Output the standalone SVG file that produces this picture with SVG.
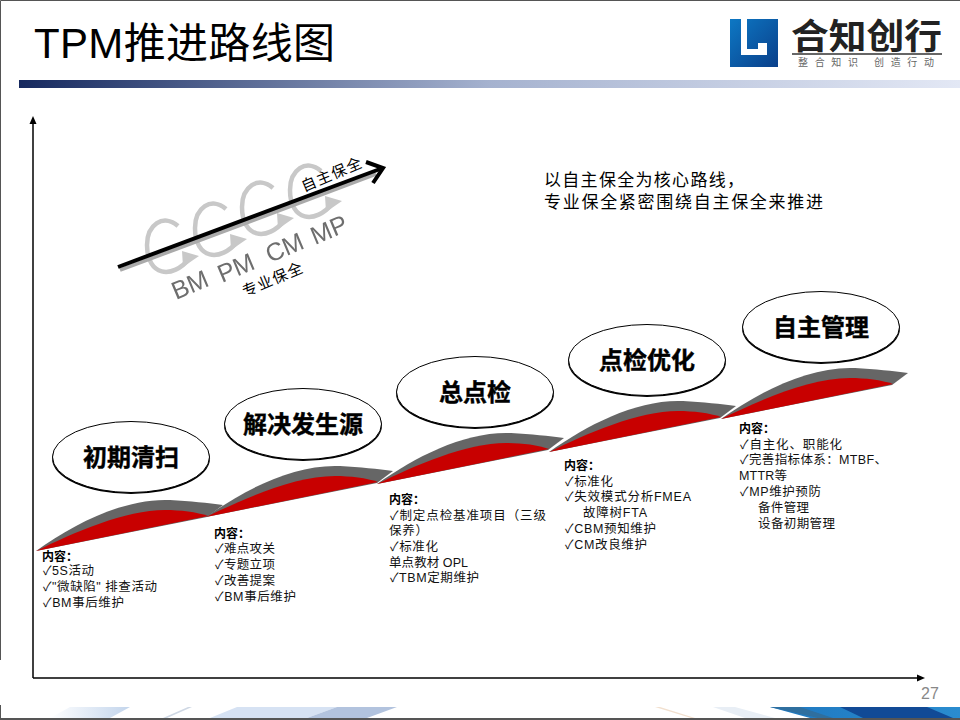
<svg xmlns="http://www.w3.org/2000/svg" width="960" height="720" viewBox="0 0 960 720">
<style>
text{font-family:"Liberation Sans","Noto Sans CJK SC",sans-serif;fill:#000}
.c{font-size:12.500px;fill:#111}
.b{font-size:12px;font-weight:bold}
.n{font-size:24px;font-weight:bold;text-anchor:middle;stroke:#000;stroke-width:.4}
.el{fill:#fff;stroke:#000;stroke-width:1}
.sh{fill:#000}
.g{fill:#666}
.r{fill:#c80000}
.arc{fill:none;stroke:#c8c8c8;stroke-width:4.500}
.tip{fill:#c8c8c8}
.m{font-size:25px;fill:#6e6e6e}
.lb{font-size:15px}
</style>
<defs>
<linearGradient id="bar"><stop offset="0" stop-color="#16295f"/><stop offset=".5" stop-color="#a5b2cf"/><stop offset="1" stop-color="#e3e8f5"/></linearGradient>
<linearGradient id="logo" x1="0" y1="0" x2="1" y2="1"><stop offset="0" stop-color="#0d78c4"/><stop offset="1" stop-color="#0a3f8a"/></linearGradient>
<linearGradient id="f1" x1="0" y1="0" x2="1" y2="0"><stop offset="0" stop-color="#fff"/><stop offset="1" stop-color="#c3d5ec"/></linearGradient>
<linearGradient id="f2" x1="0" y1="0" x2="1" y2="0"><stop offset="0" stop-color="#1f78c0"/><stop offset="1" stop-color="#2a8ccf"/></linearGradient>
<filter id="soft" x="-10%" y="-10%" width="120%" height="120%"><feGaussianBlur stdDeviation=".5"/></filter>
<marker id="tip" markerWidth="10" markerHeight="8" refX="1" refY="4" orient="auto" markerUnits="userSpaceOnUse"><path d="M0 0.500L8 4L0 7.500Z" fill="#000"/></marker>
<g id="wave">
<path class="g" d="M36 551C75 523 125 498 170 500C190 501 208 503 223 505L207 517Z"/>
<path class="r" d="M36 551C75 532 125 510 165 510C180 510 197 512 208 516Z"/>
</g>
</defs>
<rect width="960" height="720" fill="#fff"/>
<g id="frame">
<path d="M0.500 660V0.500H960" fill="none" stroke="#555"/>
<path d="M0.500 705V720" fill="none" stroke="#555"/>
</g>
<g id="footer">
<path d="M50 718L70 707H130L110 718Z" fill="url(#f1)"/>
<path d="M163 718L188 707H192L167 718Z" fill="#cfd8e4"/>
<path d="M210 718L237 707H337L307 718Z" fill="#d6e2f3"/>
<path d="M307 718L337 707H397L367 718Z" fill="#b2c3de"/>
<path d="M660 707L695 718H691L655 707Z" fill="#f2e0cf"/>
<path d="M713 707L745 718H775L735 707Z" fill="#e8eef5"/>
<path d="M770 707L810 718H960V707Z" fill="url(#f2)"/>
<path d="M770 707H800L833 718H818Z" fill="#2f6f9f"/>
<path d="M840 707L863 718H953L927 707Z" fill="#114a96"/>
<rect y="718" width="960" height="2" fill="#555"/>
</g>
<text x="34" y="58" font-size="42" textLength="301">TPM推进路线图</text>
<rect x="19" y="80" width="941" height="8" fill="url(#bar)"/>
<g id="logo-mark">
<path d="M730 19H778V67H730ZM741 19V55H767V43H758V49H747V19Z" fill="url(#logo)" fill-rule="evenodd"/>
<text x="791" y="49" font-size="35" font-weight="bold" style="fill:#222" textLength="151" lengthAdjust="spacingAndGlyphs">合知创行</text>
<rect x="792" y="53" width="150" height="2" fill="#666"/>
<text x="798" y="66" font-size="10" style="fill:#666" textLength="136">整合知识   创造行动</text>
</g>
<g id="axes" fill="none" stroke="#000" stroke-width="1.500">
<path d="M33 678V123" marker-end="url(#tip)"/>
<path d="M33 678H918" marker-end="url(#tip)"/>
</g>
<text x="921" y="699" font-size="16" style="fill:#888" textLength="18">27</text>
<text x="544" y="186" font-size="17" textLength="200">以自主保全为核心路线，</text>
<text x="544" y="208" font-size="17" textLength="279">专业保全紧密围绕自主保全来推进</text>
<g id="diagram-inset">
<g id="arcs" filter="url(#soft)">
<path class="arc" d="M178 226C163 213 147 225 147 245C147 276 172 280 190 258"/>
<path class="arc" d="M226 209C211 196 195 208 195 228C195 259 220 263 238 241"/>
<path class="arc" d="M273 188C258 175 242 187 242 207C242 238 267 242 285 220"/>
<path class="arc" d="M321 171C306 158 290 170 290 190C290 221 315 225 333 203"/>
<path class="tip" d="M182 251L199 256L183 267ZM230 234L247 239L231 250ZM277 213L294 218L278 229ZM325 196L342 201L326 212Z"/>
</g>
<path d="M120 270L376 174" stroke="#aaa" stroke-width="4" fill="none" filter="url(#soft)"/>
<path d="M118 267L380 169" stroke="#000" stroke-width="4" fill="none"/>
<path d="M366 162L383 168L373 183" stroke="#000" stroke-width="4" fill="none"/>
<g id="specialist-labels" filter="url(#soft)">
<text class="m" transform="translate(176 300) rotate(-23)">BM</text>
<text class="m" transform="translate(222 283) rotate(-23)">PM</text>
<text class="m" transform="translate(270 263) rotate(-23)">CM</text>
<text class="m" transform="translate(315 245) rotate(-23)">MP</text>
</g>
<text class="lb" transform="translate(304 192) rotate(-23)" textLength="64">自主保全</text>
<text class="lb" transform="translate(245 297) rotate(-23)" textLength="64">专业保全</text>
</g>
<g id="waves">
<use href="#wave"/>
<use href="#wave" x="170" y="-34"/>
<use href="#wave" x="341" y="-67"/>
<use href="#wave" x="513" y="-99"/>
<use href="#wave" x="685" y="-132"/>
</g>
<g id="node-1"><ellipse class="sh" cx="131" cy="458.500" rx="79" ry="35.500"/><ellipse class="el" cx="131" cy="457" rx="78.500" ry="35.500"/><text class="n" x="131" y="466">初期清扫</text></g>
<g id="node-2"><ellipse class="sh" cx="303" cy="425.500" rx="79" ry="35.500"/><ellipse class="el" cx="303" cy="424" rx="78.500" ry="35.500"/><text class="n" x="303" y="433">解决发生源</text></g>
<g id="node-3"><ellipse class="sh" cx="475" cy="393.500" rx="79" ry="35.500"/><ellipse class="el" cx="475" cy="392" rx="78.500" ry="35.500"/><text class="n" x="475" y="401">总点检</text></g>
<g id="node-4"><ellipse class="sh" cx="647" cy="361.500" rx="79" ry="35.500"/><ellipse class="el" cx="647" cy="360" rx="78.500" ry="35.500"/><text class="n" x="647" y="369">点检优化</text></g>
<g id="node-5"><ellipse class="sh" cx="821" cy="328.500" rx="79" ry="35.500"/><ellipse class="el" cx="821" cy="327" rx="78.500" ry="35.500"/><text class="n" x="821" y="336">自主管理</text></g>
<g id="content-1">
<text class="b" x="42" y="561">内容：</text>
<text class="c" x="43" y="575" textLength="51">✓5S活动</text>
<text class="c" x="43" y="591" textLength="114">✓"微缺陷" 排查活动</text>
<text class="c" x="43" y="607" textLength="81">✓BM事后维护</text>
</g>
<g id="content-2">
<text class="b" x="214" y="538">内容：</text>
<text class="c" x="215" y="553" textLength="60">✓难点攻关</text>
<text class="c" x="215" y="569" textLength="60">✓专题立项</text>
<text class="c" x="215" y="585" textLength="60">✓改善提案</text>
<text class="c" x="215" y="601" textLength="81">✓BM事后维护</text>
</g>
<g id="content-3">
<text class="b" x="389" y="504">内容：</text>
<text class="c" x="390" y="520" textLength="156">✓制定点检基准项目（三级</text>
<text class="c" x="389" y="535" textLength="39">保养）</text>
<text class="c" x="390" y="551" textLength="48">✓标准化</text>
<text class="c" x="389" y="567" textLength="79">单点教材 OPL</text>
<text class="c" x="390" y="582" textLength="89">✓TBM定期维护</text>
</g>
<g id="content-4">
<text class="b" x="564" y="470">内容：</text>
<text class="c" x="565" y="486" textLength="48">✓标准化</text>
<text class="c" x="565" y="501" textLength="126">✓失效模式分析FMEA</text>
<text class="c" x="583" y="517" textLength="64">故障树FTA</text>
<text class="c" x="565" y="533" textLength="91">✓CBM预知维护</text>
<text class="c" x="565" y="549" textLength="82">✓CM改良维护</text>
</g>
<g id="content-5">
<text class="b" x="739" y="433">内容：</text>
<text class="c" x="740" y="449" textLength="102">✓自主化、职能化</text>
<text class="c" x="740" y="464" textLength="147">✓完善指标体系：MTBF、</text>
<text class="c" x="739" y="480" textLength="48">MTTR等</text>
<text class="c" x="740" y="496" textLength="81">✓MP维护预防</text>
<text class="c" x="758" y="512" textLength="51">备件管理</text>
<text class="c" x="758" y="528" textLength="77">设备初期管理</text>
</g>
</svg>
